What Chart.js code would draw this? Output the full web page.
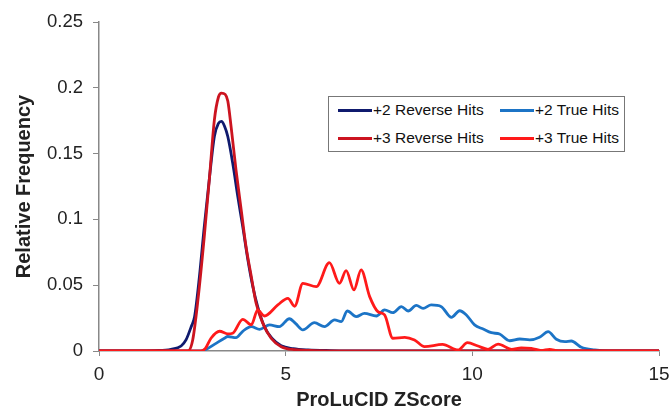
<!DOCTYPE html>
<html>
<head>
<meta charset="utf-8">
<script src="https://cdn.jsdelivr.net/npm/chart.js@4"></script>
<style>
  body { margin: 0; background: #fff; }
  #wrap { position: relative; width: 672px; height: 414px; }
  #leyenda {
    position: absolute; left: 328px; top: 96px; width: 297px; height: 56px;
    border: 1px solid #777; background: #fff; box-sizing: border-box;
    font-family: 'Liberation Sans', Arial, sans-serif; font-size: 15.5px; color: #111;
  }
  .item { position: absolute; display: flex; align-items: center; white-space: nowrap; }
  .item span.linea { display: inline-block; width: 34px; height: 3px; margin-right: 1px; }
</style>
</head>
<body>
<div id="wrap">
  <canvas id="zscore-chart" width="672" height="414"></canvas>
  <div id="leyenda"></div>
</div>
<script>
  // Datos
  const zRev2 = [0, 1.0, 1.5, 1.93, 2.2, 2.33, 2.47, 2.56, 2.69, 2.82, 2.96, 3.09, 3.2, 3.28, 3.36, 3.45, 3.58, 3.72, 3.85, 3.99, 4.12, 4.25, 4.43, 4.63, 4.88, 5.2, 5.6, 6.2, 7.0, 15];
  const fRev2 = [0, 0, 0.0003, 0.0013, 0.0038, 0.0084, 0.0185, 0.026, 0.0565, 0.0945, 0.132, 0.163, 0.173, 0.1745, 0.171, 0.163, 0.143, 0.117, 0.0945, 0.069, 0.049, 0.0337, 0.0185, 0.0097, 0.004, 0.0018, 0.0008, 0.0003, 0, 0];

  const zRev3 = [0, 2.38, 2.51, 2.65, 2.82, 2.96, 3.09, 3.2, 3.28, 3.38, 3.45, 3.54, 3.67, 3.81, 3.94, 4.08, 4.21, 4.39, 4.61, 4.88, 5.24, 5.8, 6.5, 15];
  const fRev3 = [0, 0, 0.0084, 0.0388, 0.087, 0.132, 0.1755, 0.193, 0.196, 0.195, 0.19, 0.17, 0.1376, 0.107, 0.079, 0.0565, 0.0362, 0.021, 0.0097, 0.0033, 0.001, 0.0003, 0, 0];

  const zTrue2 = [0, 2.7, 2.85, 3.09, 3.36, 3.45, 3.67, 3.85, 4.08, 4.3, 4.57, 4.83, 5.1, 5.27, 5.46, 5.77, 6.04, 6.31, 6.49, 6.65, 6.89, 7.11, 7.43, 7.65, 7.87, 8.1, 8.28, 8.5, 8.68, 8.9, 9.17, 9.44, 9.66, 9.84, 10.06, 10.29, 10.51, 10.73, 11.0, 11.27, 11.54, 11.8, 12.03, 12.25, 12.48, 12.65, 12.92, 13.28, 13.64, 15];
  const fTrue2 = [0, 0, 0.001, 0.005, 0.0097, 0.011, 0.0101, 0.015, 0.0185, 0.0165, 0.0198, 0.0185, 0.0245, 0.0208, 0.016, 0.0215, 0.0185, 0.0236, 0.0223, 0.0304, 0.0261, 0.0286, 0.0266, 0.0312, 0.0291, 0.0337, 0.0304, 0.0347, 0.0324, 0.035, 0.0337, 0.0256, 0.0306, 0.0274, 0.0198, 0.0167, 0.0139, 0.0129, 0.0078, 0.0091, 0.0084, 0.0104, 0.0147, 0.0089, 0.0071, 0.0076, 0.0028, 0.0008, 0, 0];

  const zTrue3 = [0, 2.73, 2.85, 3.0, 3.23, 3.45, 3.58, 3.85, 4.08, 4.25, 4.43, 4.79, 5.06, 5.24, 5.46, 5.82, 6.17, 6.44, 6.62, 6.83, 7.02, 7.25, 7.47, 7.65, 7.87, 8.19, 8.45, 8.72, 9.2, 9.62, 9.87, 10.15, 10.42, 10.69, 11.05, 11.31, 11.58, 11.85, 12.07, 12.3, 15];
  const fTrue3 = [0, 0, 0.002, 0.0097, 0.015, 0.013, 0.0135, 0.0241, 0.0198, 0.0312, 0.0266, 0.035, 0.04, 0.034, 0.0514, 0.0489, 0.0671, 0.0514, 0.061, 0.0464, 0.0616, 0.0413, 0.0299, 0.0274, 0.0097, 0.0104, 0.0084, 0.0033, 0.005, 0.0008, 0.0063, 0.0038, 0.0013, 0.0053, 0.0013, 0.0023, 0.002, 0.0003, 0.0013, 0, 0];

  const ticksX = [0, 5, 10, 15];
  const ticksY = [0, 0.05, 0.1, 0.15, 0.2, 0.25];

  const series = [
    { label: '+2 Reverse Hits', z: zRev2, f: fRev2, color: '#0f1a6e' },
    { label: '+2 True Hits', z: zTrue2, f: fTrue2, color: '#1c74c6' },
    { label: '+3 Reverse Hits', z: zRev3, f: fRev3, color: '#cc1420' },
    { label: '+3 True Hits', z: zTrue3, f: fTrue3, color: '#ff1a1a' }
  ];
  // orden de dibujo: +3 True Hits arriba
  const dibujo = { '+3 True Hits': 0, '+3 Reverse Hits': 1, '+2 Reverse Hits': 2, '+2 True Hits': 3 };

  const fuente = "'Liberation Sans', Arial, sans-serif";
  const ctx = document.getElementById('zscore-chart').getContext('2d');

  const chart = new Chart(ctx, {
    type: 'line',
    data: {
      datasets: series.map(s => ({
        label: s.label,
        data: s.z.map((z, i) => ({ x: z, y: s.f[i] })),
        borderColor: s.color,
        backgroundColor: s.color,
        borderWidth: 2.8,
        pointRadius: 0,
        fill: false,
        cubicInterpolationMode: 'monotone',
        order: dibujo[s.label]
      }))
    },
    options: {
      responsive: false,
      animation: false,
      layout: { padding: { top: 22, right: 13, left: 0, bottom: 0 } },
      plugins: { legend: { display: false }, tooltip: { enabled: false } },
      scales: {
        x: {
          type: 'linear', min: 0, max: 15,
          afterBuildTicks: s => { s.ticks = ticksX.map(v => ({ value: v })); },
          afterFit: s => { s.height = 63; s.paddingLeft = 0; s.paddingRight = 0; },
          grid: { drawOnChartArea: false, drawTicks: true, tickLength: 5, color: '#888' },
          border: { color: '#888', width: 1.5 },
          ticks: { color: '#222', padding: 7, maxRotation: 0, font: { family: fuente, size: 19 } },
          title: { display: true, text: 'ProLuCID ZScore', color: '#222', padding: { top: 0, bottom: 2 },
                   font: { family: fuente, size: 20, weight: 'bold' } }
        },
        y: {
          min: 0, max: 0.25,
          afterBuildTicks: s => { s.ticks = ticksY.map(v => ({ value: v })); },
          afterFit: s => { s.width = 99; s.paddingTop = 0; s.paddingBottom = 0; },
          grid: { drawOnChartArea: false, drawTicks: true, tickLength: 6, color: '#888' },
          border: { color: '#888', width: 1.5 },
          ticks: { color: '#222', padding: 10, font: { family: fuente, size: 18.5 },
                   callback: v => String(+v.toFixed(2)) },
          title: { display: true, text: 'Relative Frequency', color: '#222', padding: { top: 12, bottom: 0 },
                   font: { family: fuente, size: 20, weight: 'bold' } }
        }
      }
    }
  });

  // Leyenda con recuadro dentro del area
  const leyenda = document.getElementById('leyenda');
  const posiciones = [[9, 13], [171, 13], [9, 41], [171, 41]];
  series.forEach((s, i) => {
    const div = document.createElement('div');
    div.className = 'item';
    div.style.left = posiciones[i][0] + 'px';
    div.style.top = (posiciones[i][1] - 9) + 'px';
    div.innerHTML = `<span class="linea" style="background:${s.color}"></span>${s.label}`;
    leyenda.appendChild(div);
  });
</script>
</body>
</html>
